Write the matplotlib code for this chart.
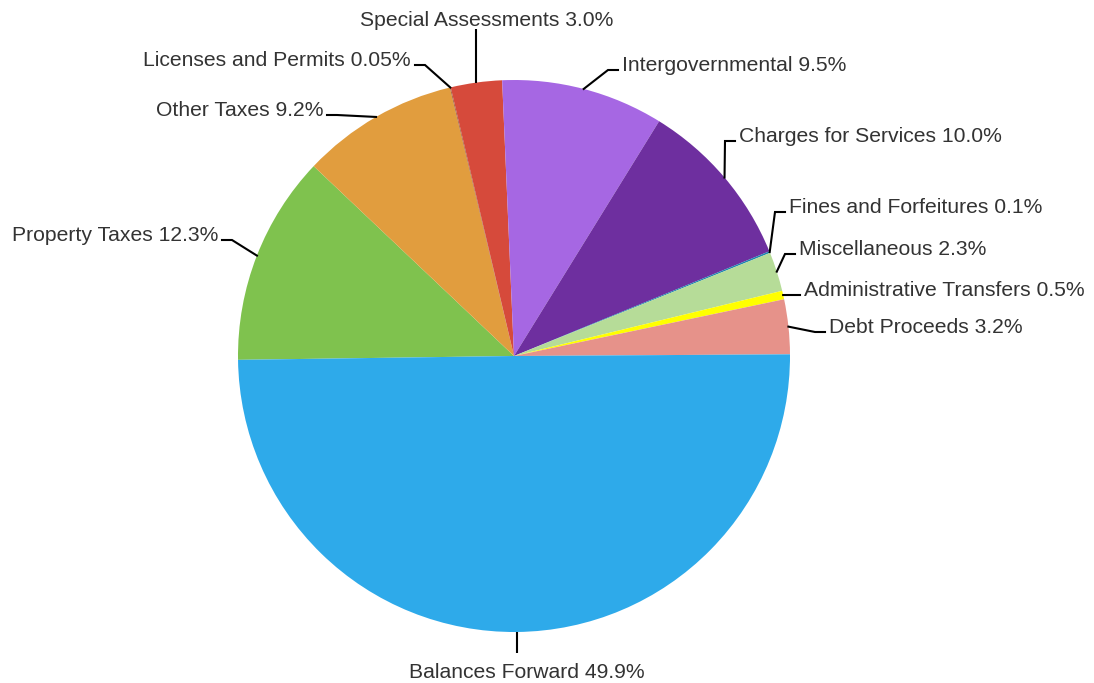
import numpy as np
import matplotlib.pyplot as plt

plt.rcParams['font.family'] = ['Liberation Sans', 'DejaVu Sans']

# revenue sources, clockwise from the left edge of the pie
sources = [
    "Property Taxes", "Other Taxes", "Licenses and Permits",
    "Special Assessments", "Intergovernmental", "Charges for Services",
    "Fines and Forfeitures", "Miscellaneous", "Administrative Transfers",
    "Debt Proceeds", "Balances Forward",
]
shares = [12.3, 9.2, 0.05, 3.0, 9.5, 10.0, 0.1, 2.3, 0.5, 3.2, 49.9]
share_text = ["12.3%", "9.2%", "0.05%", "3.0%", "9.5%", "10.0%",
              "0.1%", "2.3%", "0.5%", "3.2%", "49.9%"]
colors = ["#7fc24e", "#e19d3e", "#9a5a34", "#d64a3b", "#a667e3", "#6e2f9f",
          "#1f86b0", "#b6dc98", "#ffff00", "#e6928a", "#2eaaea"]

# label layout: elbow offset (px) from the pie centre, "v" = straight up/down
elbows = [(-282, 116), (-177, 241), (-89, 291), "v", (94, 286), (211, 215),
          (261, 144), (271, 102), (276, 61), (301, 24), "v"]

W, H = 1094, 683
cx, cy, r = 514, H - 356, 276

fig = plt.figure(figsize=(W / 100, H / 100), dpi=100)
ax = fig.add_axes([0, 0, 1, 1])

wedges, _ = ax.pie(shares, colors=colors, startangle=180.8, counterclock=False,
                   center=(cx, cy), radius=r, wedgeprops=dict(linewidth=0),
                   frame=True)
ax.set_xlim(0, W)
ax.set_ylim(0, H)
ax.set_aspect("equal")
ax.axis("off")

txt = dict(fontsize=15.2, color="#333333")
for w, name, pct, el in zip(wedges, sources, share_text, elbows):
    mid = np.deg2rad((w.theta1 + w.theta2) / 2)
    x0, y0 = cx + r * np.cos(mid), cy + r * np.sin(mid)
    label = f"{name} {pct}"
    if el == "v":
        up = np.sin(mid) > 0
        y1 = cy + (327 if up else -297)
        ax.plot([x0, x0], [y0, y1], color="black", lw=1.5, solid_capstyle="butt")
        if up:
            ax.text(x0 + 10, y1 + 3, label, ha="center", va="baseline", **txt)
        else:
            ax.text(x0 + 10, y1 - 10, label, ha="center", va="top", **txt)
        continue
    ex, ey = cx + el[0], cy + el[1]
    side = 1 if el[0] > 0 else -1
    ax.plot([x0, ex, ex + side * 10], [y0, ey, ey], color="black", lw=1.5,
            solid_joinstyle="miter")
    ax.text(ex + side * 14, ey - 1, label, ha="left" if side > 0 else "right",
            va="baseline", **txt)

fig.savefig("out.png", dpi=100)
